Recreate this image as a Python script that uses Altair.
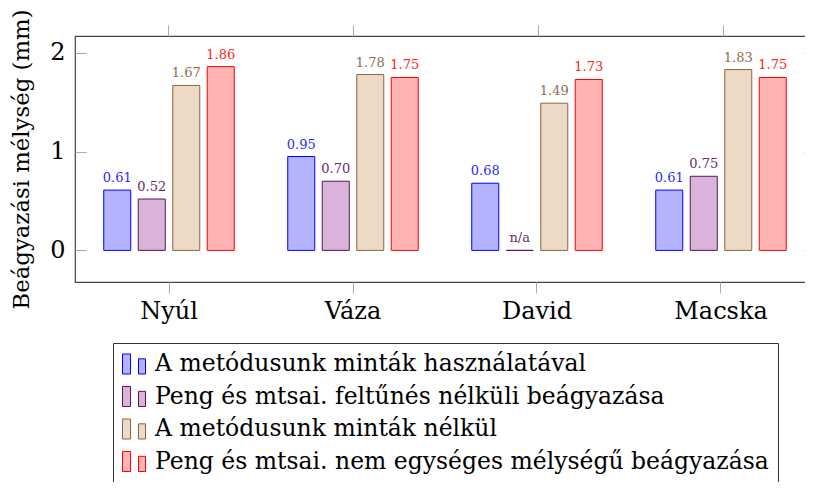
import altair as alt
import pandas as pd

categories = ["Nyúl", "Váza", "David", "Macska"]
series = [
    "A metódusunk minták használatával",
    "Peng és mtsai. feltűnés nélküli beágyazása",
    "A metódusunk minták nélkül",
    "Peng és mtsai. nem egységes mélységű beágyazása",
]
values_ours_samples = [0.61, 0.95, 0.68, 0.61]
values_peng_saliency = [0.52, 0.70, None, 0.75]
values_ours_nosamples = [1.67, 1.78, 1.49, 1.83]
values_peng_nonuniform = [1.86, 1.75, 1.73, 1.75]

fills = ["#b3b3ff", "#d9b3d9", "#ecdac6", "#ffb3b3"]
strokes = ["#0000ff", "#5a145a", "#8a6440", "#ff0000"]
label_colors = ["#2a2aff", "#6a2a6a", "#8d6e4e", "#ff2020"]

rows = []
for s, vals in zip(series, [values_ours_samples, values_peng_saliency,
                            values_ours_nosamples, values_peng_nonuniform]):
    for c, v in zip(categories, vals):
        rows.append({
            "cat": c,
            "series": s,
            "value": 0.0 if v is None else v,
            "label": "n/a" if v is None else f"{v:.2f}",
        })
df = pd.DataFrame(rows)

FONT = "DejaVu Serif"

yscale = alt.Scale(domain=[-0.32, 2.17], nice=False, zero=False)
xscale = alt.Scale(domain=categories, paddingInner=0, paddingOuter=0.01087, align=0.5)
xoff = alt.XOffset("series:N", sort=series,
                   scale=alt.Scale(domain=series, paddingInner=0.217, paddingOuter=0.775))

sym = "M -1 -0.87 H -0.3 V 0.87 H -1 Z M 0.39 -0.45 H 1 V 0.87 H 0.39 Z"

bars = alt.Chart(df).mark_bar(strokeWidth=1).encode(
    x=alt.X("cat:N", sort=categories, scale=xscale,
            axis=alt.Axis(title=None, labelAngle=0, labelFontSize=24, labelFont=FONT,
                          labelColor="#000", tickSize=11, tickColor="#aaa",
                          domain=False, labelPadding=6)),
    xOffset=xoff,
    y=alt.Y("value:Q", scale=yscale,
            axis=alt.Axis(title="Beágyazási mélység (mm)", titleFont=FONT, titleFontSize=22.8,
                          titleFontWeight="normal", titleColor="#000",
                          values=[0, 1, 2], format="d", labelFont=FONT, labelFontSize=24,
                          labelColor="#000", tickSize=11, tickColor="#aaa", offset=-11,
                          domain=False, grid=False, labelPadding=10, titlePadding=16)),
    fill=alt.Fill("series:N", sort=series, scale=alt.Scale(domain=series, range=fills),
                  legend=alt.Legend(title=None, orient="none", legendX=38, legendY=307,
                                    direction="vertical", labelFont=FONT, labelFontSize=23.5,
                                    labelColor="#000", labelLimit=800, symbolType=sym,
                                    symbolSize=529, symbolStrokeWidth=1, rowPadding=6.5,
                                    labelOffset=9, strokeColor="#333", padding=9,
                                    fillColor="white")),
    stroke=alt.Stroke("series:N", sort=series, scale=alt.Scale(domain=series, range=strokes),
                      legend=None),
)

text = alt.Chart(df).mark_text(baseline="bottom", dy=-5, font=FONT, fontSize=13).encode(
    x=alt.X("cat:N", sort=categories, scale=xscale),
    xOffset=xoff,
    y=alt.Y("value:Q", scale=yscale),
    text="label:N",
    color=alt.Color("series:N", sort=series, scale=alt.Scale(domain=series, range=label_colors),
                    legend=None),
)

main = alt.layer(bars, text)

top = alt.Chart(pd.DataFrame({"cat": categories})).mark_point(opacity=0).encode(
    x=alt.X("cat:N", sort=categories, scale=xscale,
            axis=alt.Axis(orient="top", title=None, labels=False, tickSize=11,
                          tickColor="#aaa", domain=False)),
    y=alt.Y("dummy:Q", scale=yscale,
            axis=alt.Axis(orient="right", title=None, labels=False, values=[0, 1, 2],
                          tickSize=11, tickColor="#aaa", offset=-11, domain=False, grid=False)),
).transform_calculate(dummy="0")

chart = alt.layer(main, top).resolve_scale(x="independent", y="independent").properties(
    width=740, height=246,
    autosize=alt.AutoSizeParams(type="none"),
    padding={"left": 67, "top": 28, "right": -10, "bottom": 200},
).configure_view(stroke="#444", strokeWidth=1.2)

chart.save("out.html", embed_options={"renderer": "svg", "actions": False})
